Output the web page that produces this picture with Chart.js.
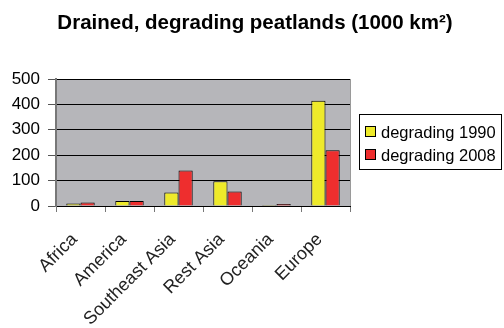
<!DOCTYPE html>
<html>
<head>
<meta charset="utf-8">
<script src="https://cdn.jsdelivr.net/npm/chart.js@4/dist/chart.umd.min.js"></script>
<style>
  html, body { margin: 0; padding: 0; background: #ffffff; }
  #wrap { width: 504px; height: 328px; position: relative; }
</style>
</head>
<body>
<div id="wrap"><canvas id="chart" width="504" height="328"></canvas></div>
<script>
// Drained, degrading peatland area by region, in 1000 km²
const regions = ["Africa", "America", "Southeast Asia", "Rest Asia", "Oceania", "Europe"];
const degrading1990 = [10, 20, 53, 97, 4, 414];
const degrading2008 = [14, 20, 140, 57, 8, 219];
const seriesNames = ["degrading 1990", "degrading 2008"];
const yTicks = [0, 100, 200, 300, 400, 500];
const chartTitle = "Drained, degrading peatlands (1000 km²)";

const FONT = '"Liberation Sans", Arial, sans-serif';
const YELLOW = "#eeea2a";
const RED = "#ee2e2e";
const PLOT_BG = "#b6b6ba";

// Grey plot background, right edge, title and the boxed legend
const decorations = {
  id: "decorations",
  beforeDraw(chart) {
    const { ctx, chartArea: a } = chart;
    ctx.save();
    ctx.fillStyle = PLOT_BG;
    ctx.fillRect(a.left, a.top, a.right - a.left, a.bottom - a.top);
    ctx.restore();
  },
  afterDraw(chart) {
    const { ctx, chartArea: a } = chart;
    ctx.save();
    // right edge of plot area
    ctx.strokeStyle = "#9a9a9a";
    ctx.lineWidth = 1;
    ctx.beginPath();
    ctx.moveTo(Math.round(a.right) + 0.5, a.top);
    ctx.lineTo(Math.round(a.right) + 0.5, a.bottom);
    ctx.stroke();

    // title
    ctx.fillStyle = "#000000";
    ctx.font = "bold 20.5px " + FONT;
    ctx.textAlign = "center";
    ctx.textBaseline = "alphabetic";
    ctx.fillText(chartTitle, 255, 29);

    // legend
    const lx = 359.5, ly = 114.5, lw = 142, lh = 55;
    ctx.fillStyle = "#ffffff";
    ctx.fillRect(lx, ly, lw, lh);
    ctx.strokeStyle = "#000000";
    ctx.lineWidth = 1;
    ctx.strokeRect(lx, ly, lw, lh);
    const rows = [132, 155];
    chart.data.datasets.forEach((ds, i) => {
      const cy = rows[i];
      ctx.fillStyle = ds.backgroundColor;
      ctx.fillRect(365.5, cy - 5.5, 10, 10);
      ctx.strokeStyle = "#000000";
      ctx.strokeRect(365.5, cy - 5.5, 10, 10);
      ctx.fillStyle = "#000000";
      ctx.font = "16.5px " + FONT;
      ctx.textAlign = "left";
      ctx.textBaseline = "middle";
      ctx.fillText(ds.label, 381, cy + 1);
    });
    ctx.restore();
  }
};

new Chart(document.getElementById("chart"), {
  type: "bar",
  data: {
    labels: regions,
    datasets: [
      {
        label: seriesNames[0],
        data: degrading1990,
        backgroundColor: YELLOW,
        borderColor: "#000000",
        borderWidth: 1,
        borderSkipped: "bottom"
      },
      {
        label: seriesNames[1],
        data: degrading2008,
        backgroundColor: RED,
        borderColor: "#000000",
        borderWidth: 1,
        borderSkipped: "bottom"
      }
    ]
  },
  options: {
    responsive: false,
    animation: false,
    devicePixelRatio: 1,
    layout: { padding: { top: 79, right: 154, left: 0, bottom: 0 } },
    datasets: {
      bar: { barPercentage: 1.0, categoryPercentage: 0.58 }
    },
    plugins: {
      legend: { display: false },
      title: { display: false },
      tooltip: { enabled: false }
    },
    scales: {
      x: {
        offset: true,
        grid: {
          offset: true,
          drawOnChartArea: false,
          drawTicks: true,
          tickLength: 6,
          color: "#777777"
        },
        border: { display: true, color: "#000000", width: 1 },
        ticks: {
          minRotation: 45,
          maxRotation: 45,
          color: "#222222",
          padding: 17,
          labelOffset: -6,
          font: { family: FONT, size: 18 }
        },
        afterFit(scale) { scale.height = 122; }
      },
      y: {
        min: 0,
        max: 500,
        afterBuildTicks(scale) { scale.ticks = yTicks.map(v => ({ value: v })); },
        grid: {
          color: "#000000",
          lineWidth: 1,
          drawTicks: true,
          tickLength: 8,
          tickColor: "#555555"
        },
        border: { display: true, color: "#777777", width: 2 },
        ticks: {
          color: "#000000",
          padding: 8,
          font: { family: FONT, size: 17 }
        },
        afterFit(scale) { scale.width = 56; }
      }
    }
  },
  plugins: [decorations]
});
</script>
</body>
</html>
